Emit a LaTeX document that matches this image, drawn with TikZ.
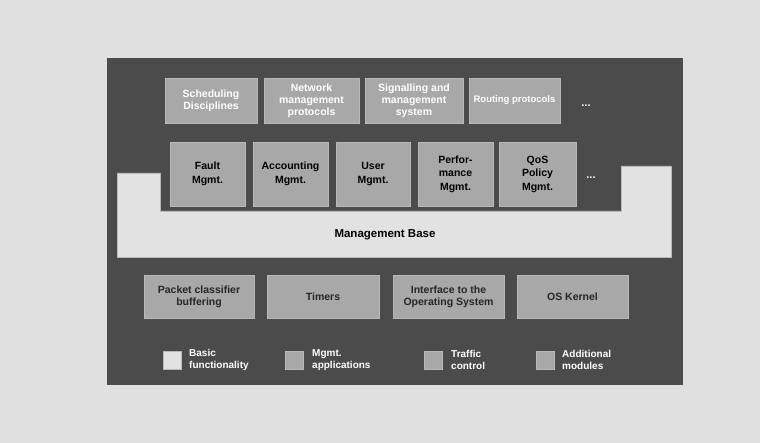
\documentclass[tikz,border=0pt]{standalone}
\usepackage{fontspec}
\setmainfont{Liberation Sans}
\definecolor{bgc}{HTML}{E0E0E0}
\definecolor{panel}{HTML}{4B4B4B}
\definecolor{boxc}{HTML}{A8A8A8}
\definecolor{boxline}{HTML}{B8B8B8}
\definecolor{bandc}{HTML}{E2E2E2}
\begin{document}
\begin{tikzpicture}[x=1pt,y=-1pt,
  txt/.style={font=\fontsize{10.5}{12}\selectfont\bfseries, align=center},
  topbox/.style={fill=boxc, draw=boxline, line width=0.6pt, txt, text=white, inner sep=0pt},
  midbox/.style={fill=boxc, draw=boxline, line width=0.6pt, txt, text=black, inner sep=0pt, font=\fontsize{10.5}{13.5}\selectfont\bfseries},
  botbox/.style={fill=boxc, draw=boxline, line width=0.6pt, txt, text=black!85, inner sep=0pt},
  legsq/.style={fill=#1, draw=boxline, line width=0.5pt, minimum size=18pt, inner sep=0pt},
  legtxt/.style={font=\fontsize{10}{11.5}\selectfont\bfseries, align=left, text=white, anchor=west, inner sep=0pt},
  dots/.style={font=\fontsize{11}{12}\selectfont\bfseries, text=white}
]
\useasboundingbox (0,0) rectangle (760,443);
\fill[bgc] (0,0) rectangle (760,443);
\fill[panel] (107,58) rectangle (683,385);
% band
\filldraw[fill=bandc, draw=boxline, line width=0.6pt]
  (117,173) -- (160,173) -- (160,211) -- (621,211) -- (621,166) -- (671,166) -- (671,257) -- (117,257) -- cycle;
\node[txt, text=black, font=\fontsize{11.5}{13}\selectfont\bfseries] (base) at (385,235) {Management Base};
% top row
\node[topbox, minimum width=92pt, minimum height=45pt] (t1) at (211,100.5) {Scheduling\\Disciplines};
\node[topbox, minimum width=95pt, minimum height=45pt] (t2) at (311.5,100.5) {Network\\management\\protocols};
\node[topbox, minimum width=98pt, minimum height=45pt] (t3) at (414,100.5) {Signalling and\\management\\system};
\node[topbox, minimum width=91pt, minimum height=45pt, font=\fontsize{9.5}{11}\selectfont\bfseries] (t4) at (514.5,100.5) {Routing protocols};
\node[dots] (td) at (586,106) {...};
% middle row
\node[midbox, minimum width=75pt, minimum height=64pt] (m1) at (207.5,174) {Fault\\Mgmt.};
\node[midbox, minimum width=75pt, minimum height=64pt] (m2) at (290.5,174) {Accounting\\Mgmt.};
\node[midbox, minimum width=74pt, minimum height=64pt] (m3) at (373,174) {User\\Mgmt.};
\node[midbox, minimum width=75pt, minimum height=64pt] (m4) at (455.5,174) {Perfor-\\mance\\Mgmt.};
\node[midbox, minimum width=77pt, minimum height=64pt] (m5) at (537.5,174) {QoS\\Policy\\Mgmt.};
\node[dots] (md) at (591,178) {...};
% bottom row
\node[botbox, minimum width=110pt, minimum height=43pt] (b1) at (199,296.5) {Packet classifier\\buffering};
\node[botbox, minimum width=112pt, minimum height=43pt] (b2) at (323,296.5) {Timers};
\node[botbox, minimum width=111pt, minimum height=43pt] (b3) at (448.5,296.5) {Interface to the\\Operating System};
\node[botbox, minimum width=111pt, minimum height=43pt] (b4) at (572.5,296.5) {OS Kernel};
% legend
\node[legsq=bandc] (l1) at (172,360) {};
\node[legtxt] (l1t) at (189,360) {Basic\\functionality};
\node[legsq=boxc] (l2) at (294,360) {};
\node[legtxt] (l2t) at (312,360) {Mgmt.\\applications};
\node[legsq=boxc] (l3) at (433,360) {};
\node[legtxt] (l3t) at (451,360) {Traffic\\control};
\node[legsq=boxc] (l4) at (545,360) {};
\node[legtxt] (l4t) at (562,360) {Additional\\modules};
\end{tikzpicture}
\end{document}
